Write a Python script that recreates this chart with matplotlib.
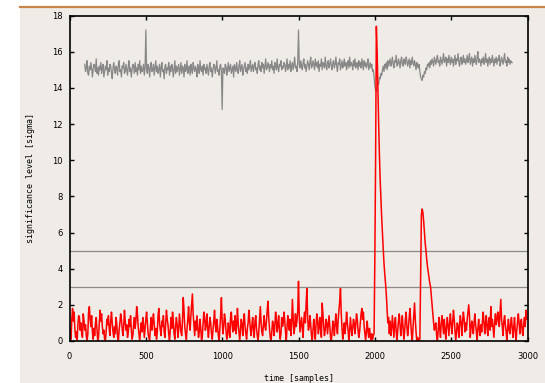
import numpy as np
import matplotlib
matplotlib.use("Agg")
import matplotlib.pyplot as plt
from matplotlib.lines import Line2D
from matplotlib.patches import Rectangle

# red trace: significance of the detector, one value every 5 samples (0..2995)
red_step = 5
red_vals = [
    0.8, 0.3, 0.1, 1.2, 1.8, 1.1, 1.6, 0.7, 0.2, 0.5, 0.0, 0.9, 1.4, 1.3, 0.6, 1.0, 0.4, 0.2, 1.5, 1.1,
    0.6, 0.9, 0.3, 0.0, 0.4, 1.6, 1.9, 1.2, 0.8, 1.4, 0.5, 0.1, 0.7, 0.3, 1.0, 1.3, 0.6, 0.0, 0.2, 0.9,
    1.7, 1.1, 1.5, 0.8, 0.4, 0.6, 0.1, 0.0, 0.5, 1.2, 0.9, 1.4, 0.7, 0.3, 1.1, 1.6, 1.0, 0.5, 0.2, 0.8,
    0.4, 1.3, 0.9, 0.2, 0.0, 0.6, 1.0, 1.5, 1.2, 0.7, 0.3, 0.8, 1.7, 1.1, 0.6, 0.9, 0.2, 0.5, 1.2, 0.8,
    1.4, 0.6, 0.1, 0.3, 0.9, 1.3, 0.7, 1.1, 1.9, 1.5, 0.8, 0.4, 0.0, 0.6, 1.0, 0.5, 1.3, 0.9, 0.2, 0.7,
    1.2, 1.6, 1.0, 0.4, 0.2, 0.0, 0.8, 1.3, 0.6, 1.1, 1.5, 0.9, 0.3, 0.7, 0.1, 0.5, 1.4, 1.8, 1.0, 0.6,
    0.3, 1.1, 0.8, 1.4, 0.5, 0.2, 1.0, 1.7, 1.2, 0.9, 0.4, 0.0, 0.6, 1.3, 0.7, 1.6, 1.1, 0.4, 0.1, 0.8,
    1.3, 0.9, 0.2, 0.6, 1.5, 1.0, 0.5, 0.3, 1.1, 2.4, 1.7, 0.8, 0.4, 0.0, 0.7, 1.2, 1.9, 1.0, 0.6, 1.4,
    2.0, 2.6, 1.5, 0.9, 0.3, 1.1, 0.6, 1.4, 0.8, 0.2, 0.5, 1.2, 0.7, 0.0, 0.3, 1.0, 1.6, 1.3, 0.6, 0.9,
    1.5, 0.7, 0.2, 0.8, 1.3, 1.0, 0.4, 0.1, 0.6, 1.1, 1.7, 0.9, 0.5, 1.2, 0.8, 0.3, 0.0, 0.7, 1.4, 2.4,
    1.1, 0.4, 0.8, 1.5, 1.2, 0.6, 0.1, 0.3, 1.0, 0.7, 0.2, 1.3, 1.6, 0.9, 0.5, 1.1, 0.6, 1.4, 0.4, 0.8,
    1.8, 1.0, 0.5, 0.0, 0.6, 1.2, 0.9, 0.3, 1.1, 1.5, 0.8, 0.4, 0.1, 0.7, 1.0, 1.7, 1.2, 0.6, 0.3, 0.9,
    1.3, 0.6, 0.2, 1.1, 1.4, 0.7, 0.3, 0.0, 0.5, 1.2, 1.9, 1.0, 0.5, 0.3, 0.9, 1.4, 0.8, 0.6, 1.1, 1.7,
    2.2, 1.3, 0.7, 0.2, 0.0, 0.5, 1.1, 0.9, 0.3, 0.8, 1.6, 1.2, 0.5, 0.9, 1.4, 0.6, 0.1, 0.4, 1.3, 0.8,
    1.0, 1.6, 1.1, 0.5, 0.0, 0.8, 1.4, 0.9, 0.6, 1.2, 0.3, 0.9, 2.3, 1.3, 0.4, 0.7, 1.5, 0.8, 1.1, 1.7,
    3.3, 1.4, 0.5, 0.9, 1.3, 0.7, 0.2, 1.2, 1.6, 1.0, 2.1, 2.9, 1.3, 0.6, 0.8, 1.4, 0.9, 0.3, 0.0, 0.6,
    1.2, 0.7, 0.1, 0.9, 1.5, 1.2, 0.4, 0.8, 1.3, 0.6, 0.2, 2.1, 1.5, 0.8, 0.3, 0.6, 1.2, 1.0, 0.4, 0.9,
    1.4, 0.8, 0.2, 0.0, 0.5, 1.1, 0.9, 0.3, 1.0, 1.5, 0.8, 0.4, 1.2, 1.7, 2.2, 2.9, 1.5, 0.7, 0.1, 0.6,
    1.0, 0.4, 0.9, 1.6, 1.0, 0.6, 0.0, 0.5, 1.3, 0.8, 0.3, 0.7, 1.2, 1.0, 0.4, 0.9, 1.5, 1.2, 0.6, 0.2,
    0.5, 1.0, 1.5, 1.8, 1.2, 1.6, 0.8, 0.4, 0.0, 0.6, 1.1, 0.5, 0.2, 0.7, 0.3, 0.0, 0.4, 0.1, 0.3, 0.4,
    4.5, 10.0, 17.4, 16.0, 14.0, 12.0, 10.3, 8.9, 7.8, 6.8, 5.9, 5.1, 4.3, 3.7, 3.2, 2.6, 1.8, 1.0, 1.3, 0.4,
    1.1, 0.3, 0.7, 1.4, 0.8, 0.2, 1.0, 1.3, 0.5, 0.0, 0.6, 1.1, 1.5, 0.9, 0.3, 0.8, 1.4, 0.7, 0.1, 0.5,
    1.2, 1.6, 0.8, 0.3, 0.7, 1.3, 1.8, 1.1, 0.4, 0.0, 0.7, 1.4, 2.1, 1.2, 0.5, 0.0, 0.2, 0.0, 0.1, 0.1,
    3.5, 7.0, 7.3, 7.1, 6.6, 6.0, 5.4, 5.0, 4.5, 4.1, 3.8, 3.5, 3.2, 3.0, 2.5, 2.0, 1.5, 1.0, 0.6, 0.9,
    1.0, 0.3, 0.0, 0.6, 1.3, 0.7, 0.2, 1.0, 1.4, 0.9, 0.4, 1.2, 0.6, 0.1, 0.8, 1.3, 0.8, 0.3, 1.0, 1.5,
    0.9, 0.4, 1.1, 1.7, 1.2, 0.6, 0.0, 0.5, 1.0, 0.8, 0.2, 0.9, 1.4, 1.0, 0.3, 1.1, 1.6, 1.2, 0.5, 1.0,
    0.6, 1.2, 1.6, 2.0, 1.4, 0.2, 0.7, 1.1, 0.8, 0.4, 1.0, 1.5, 0.9, 0.5, 0.0, 0.7, 1.2, 0.6, 0.3, 0.9,
    0.5, 1.1, 1.6, 1.0, 0.4, 1.0, 1.4, 0.7, 0.3, 1.1, 1.3, 0.6, 1.9, 0.8, 1.2, 0.7, 0.2, 1.0, 1.5, 0.9,
    1.1, 1.6, 1.3, 0.8, 1.5, 2.3, 1.2, 0.8, 0.3, 1.1, 1.4, 0.9, 0.5, 0.0, 0.7, 1.2, 0.6, 0.4, 1.0, 1.3,
    0.7, 0.2, 0.8, 1.3, 0.5, 0.0, 0.6, 1.1, 1.5, 1.0, 0.4, 1.0, 1.2, 0.6, 0.3, 0.9, 1.3, 0.8, 1.7, 1.2,
]

# gray trace: reference significance, one value every 5 samples (100..2900)
gray_start = 100
gray_step = 5
gray_vals = [
    15.3, 14.9, 15.1, 15.5, 14.8, 14.7, 15.2, 15.0, 15.4, 15.1, 14.6, 15.0, 15.3, 15.2, 14.9, 15.6, 14.8, 15.1, 14.7, 15.2,
    15.0, 15.4, 14.8, 15.1, 15.3, 14.6, 14.9, 15.2, 15.0, 15.5, 14.7, 15.1, 14.9, 15.3, 15.2, 14.8, 14.5, 15.1, 15.4, 15.0,
    14.8, 15.2, 15.1, 14.7, 15.3, 15.5, 14.9, 15.0, 14.6, 15.2, 15.1, 15.4, 14.8, 14.9, 15.3, 15.0, 14.7, 15.2, 15.5, 14.9,
    15.1, 14.6, 15.0, 15.3, 15.2, 14.8, 15.4, 14.9, 15.1, 14.7, 15.3, 15.0, 15.5, 14.8, 15.2, 14.9, 15.0, 15.3, 14.7, 15.1,
    17.2, 15.0, 14.8, 15.3, 15.1, 14.6, 15.2, 15.4, 14.9, 15.0, 15.3, 14.7, 15.1, 15.5, 14.9, 15.2, 14.8, 15.0, 15.3, 14.6,
    15.1, 15.4, 14.9, 15.0, 14.5, 15.2, 15.3, 14.8, 15.1, 15.0, 15.4, 14.7, 15.2, 14.9, 15.3, 15.1, 14.6, 15.0, 15.5, 14.8,
    15.2, 14.9, 15.1, 15.3, 14.7, 15.0, 15.4, 14.8, 15.2, 15.1, 14.6, 15.3, 14.9, 15.0, 15.5, 14.8, 15.1, 15.2, 14.7, 15.3,
    15.0, 14.8, 15.4, 15.1, 14.9, 15.2, 15.0, 14.6, 15.3, 15.1, 14.8, 15.5, 15.0, 14.9, 15.2, 14.7, 15.3, 15.0, 15.1, 14.8,
    15.3, 15.0, 14.7, 15.2, 15.4, 14.9, 15.1, 14.6, 15.0, 15.3, 15.2, 14.8, 15.1, 15.5, 14.9, 15.0, 14.7, 15.2, 15.3, 14.9,
    12.8, 15.1, 15.0, 14.8, 15.3, 15.2, 14.7, 15.0, 15.4, 14.9, 15.1, 15.3, 14.8, 15.0, 15.2, 14.6, 15.3, 15.1, 14.9, 15.4,
    15.0, 14.8, 15.2, 15.5, 14.9, 15.1, 15.3, 14.7, 15.0, 15.2, 15.4, 14.9, 15.1, 14.8, 15.3, 15.0, 15.2, 15.5, 14.9, 15.1,
    15.3, 14.9, 15.2, 15.4, 15.0, 15.1, 14.8, 15.3, 15.5, 15.0, 15.2, 14.9, 15.4, 15.1, 15.3, 14.8, 15.2, 15.6, 15.0, 15.1,
    15.4, 15.2, 14.9, 15.3, 15.1, 15.5, 15.0, 15.2, 14.8, 15.4, 15.3, 15.0, 15.6, 15.1, 14.9, 15.3, 15.2, 15.5, 15.0, 15.2,
    15.1, 15.4, 15.3, 14.9, 15.2, 15.6, 15.0, 15.3, 15.1, 15.5, 14.9, 15.2, 15.4, 15.0, 15.3, 15.7, 15.1, 15.2, 14.9, 15.4,
    17.2, 15.3, 15.1, 15.5, 15.2, 15.0, 15.4, 15.6, 15.1, 15.3, 14.9, 15.2, 15.5, 15.3, 15.0, 15.4, 15.7, 15.1, 15.2, 15.5,
    15.3, 15.0, 15.6, 15.2, 15.4, 15.1, 15.5, 14.9, 15.3, 15.2, 15.6, 15.0, 15.4, 15.3, 15.1, 15.7, 15.2, 15.0, 15.4, 15.5,
    15.1, 15.3, 15.6, 15.2, 15.0, 15.4, 15.5, 15.1, 15.3, 15.7, 15.2, 14.9, 15.4, 15.3, 15.6, 15.0, 15.2, 15.5, 15.1, 15.3,
    15.6, 15.2, 15.4, 15.0, 15.3, 15.5, 15.1, 15.7, 15.2, 15.4, 15.3, 15.0, 15.5, 15.2, 15.6, 15.1, 15.3, 15.4, 15.0, 15.5,
    15.2, 15.4, 15.1, 15.6, 15.3, 15.0, 15.5, 15.2, 15.4, 15.1, 15.3, 15.6, 15.0, 15.2, 15.4, 15.1, 15.3, 14.9, 15.0, 14.6,
    14.1, 13.9, 13.8, 14.0, 14.3, 14.2, 14.6, 14.5, 14.8, 14.7, 15.0, 15.2, 14.9, 15.3, 15.1, 15.4, 15.0, 15.5, 15.2, 15.4,
    15.6, 15.2, 15.4, 15.7, 15.3, 15.1, 15.5, 15.4, 15.8, 15.2, 15.3, 15.6, 15.4, 15.1, 15.5, 15.7, 15.3, 15.2, 15.6, 15.4,
    15.3, 15.7, 15.5, 15.2, 15.4, 15.6, 15.1, 15.5, 15.3, 15.7, 15.4, 15.2, 15.5, 15.3, 15.0, 15.4, 15.2, 15.1, 15.3, 14.9,
    14.6, 14.5, 14.4, 14.7, 14.6, 14.9, 14.8, 15.1, 15.0, 15.3, 15.2, 15.4, 15.1, 15.5, 15.3, 15.6, 15.4, 15.2, 15.7, 15.5,
    15.3, 15.6, 15.8, 15.4, 15.5, 15.2, 15.7, 15.5, 15.3, 15.6, 15.9, 15.4, 15.5, 15.7, 15.2, 15.6, 15.4, 15.8, 15.5, 15.3,
    15.7, 15.4, 15.6, 15.2, 15.5, 15.8, 15.3, 15.6, 15.5, 15.9, 15.4, 15.2, 15.6, 15.7, 15.3, 15.5, 15.8, 15.4, 15.6, 15.3,
    15.5, 15.8, 15.4, 15.6, 15.9, 15.3, 15.5, 15.7, 15.2, 15.6, 15.4, 15.8, 15.5, 15.3, 15.7, 16.0, 15.4, 15.6, 15.5, 15.2,
    15.6, 15.4, 15.7, 15.3, 15.5, 15.9, 15.4, 15.6, 15.2, 15.5, 15.7, 15.3, 15.6, 15.4, 15.8, 15.5, 15.2, 15.6, 15.4, 15.7,
    15.3, 15.6, 15.5, 15.8, 15.2, 15.4, 15.7, 15.5, 15.3, 15.6, 15.9, 15.4, 15.5, 15.2, 15.7, 15.4, 15.6, 15.3, 15.5, 15.4,
    15.4,
]

thresholds = [3, 5]
x_ticks = [0, 500, 1000, 1500, 2000, 2500, 3000]
y_ticks = [0, 2, 4, 6, 8, 10, 12, 14, 16, 18]

BG = "#efebe6"

red_x = np.arange(len(red_vals)) * red_step
gray_x = gray_start + np.arange(len(gray_vals)) * gray_step

fig = plt.figure(figsize=(5.45, 3.83), dpi=100, facecolor="white")

# page-like background with the orange rule on top
fig.add_artist(Rectangle((20 / 545, 0), 1, 1 - 8 / 383, transform=fig.transFigure,
                         facecolor=BG, edgecolor="none", zorder=-10))
fig.add_artist(Line2D([20 / 545, 1], [1 - 7 / 383, 1 - 7 / 383], transform=fig.transFigure,
                      color="#c8864a", linewidth=1.6))

ax = fig.add_axes([69.5 / 545, 1 - 341 / 383, (527.5 - 69.5) / 545, (341 - 15.5) / 383])
ax.set_facecolor(BG)

for t in thresholds:
    ax.plot([0, 3000], [t, t], color="#8a8a8a", linewidth=0.9)

ax.plot(gray_x, gray_vals, color="#888888", linewidth=0.9)
ax.plot(red_x, red_vals, color="#ff0000", linewidth=1.1)

ax.set_xlim(0, 3000)
ax.set_ylim(0, 18)
ax.set_xticks(x_ticks)
ax.set_yticks(y_ticks)
ax.tick_params(direction="in", length=3, width=1.0, top=True, right=True,
               labelsize=6, colors="black")
ax.tick_params(axis="x", pad=8)
ax.tick_params(axis="y", pad=5)
for s in ax.spines.values():
    s.set_linewidth(1.2)

ax.set_xlabel("time [samples]", fontfamily="DejaVu Sans Mono", fontsize=6, labelpad=9)
ax.set_ylabel("significance level [sigma]", fontfamily="DejaVu Sans Mono", fontsize=6, labelpad=12)

fig.savefig("out.png", dpi=100, facecolor=fig.get_facecolor())
